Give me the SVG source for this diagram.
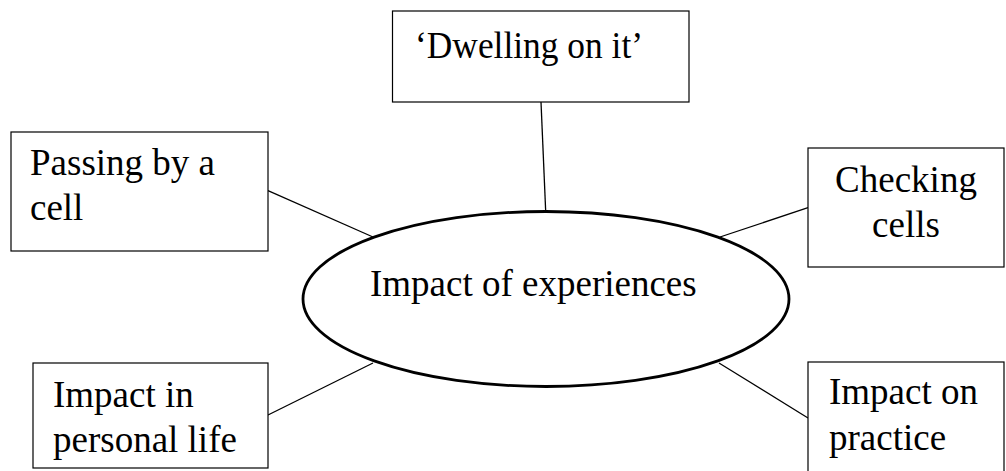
<svg xmlns="http://www.w3.org/2000/svg" width="1006" height="471" viewBox="0 0 1006 471">
  <style>
    .box { fill: #ffffff; stroke: #000000; stroke-width: 1.2; }
    .hub { fill: #ffffff; stroke: #000000; stroke-width: 2.8; }
    .link { stroke: #000000; stroke-width: 1.3; fill: none; }
    .label { font-family: 'Liberation Serif', Tinos, 'Times New Roman', Times, serif; font-size: 37px; fill: #000000; }
    .mid { text-anchor: middle; }
  </style>
  <rect width="1006" height="471" fill="#ffffff"/>

  <!-- spokes from the central ellipse to each box -->
  <g id="connectors">
    <line class="link" x1="541" y1="102" x2="545.7" y2="211.5"/>
    <line class="link" x1="268" y1="190.7" x2="373" y2="237"/>
    <line class="link" x1="808" y1="207.7" x2="720" y2="237"/>
    <line class="link" x1="268" y1="415" x2="373" y2="363"/>
    <line class="link" x1="808" y1="418" x2="719" y2="363"/>
  </g>

  <g id="node-center">
    <ellipse class="hub" cx="546" cy="299" rx="243" ry="87.5"/>
    <text class="label" x="370" y="296">Impact of experiences</text>
  </g>

  <g id="node-dwelling">
    <rect class="box" x="392.5" y="11" width="296.5" height="91"/>
    <text class="label" x="415" y="58" textLength="228" lengthAdjust="spacingAndGlyphs">‘Dwelling on it’</text>
  </g>

  <g id="node-passing">
    <rect class="box" x="11" y="132" width="257" height="119"/>
    <text class="label" x="30" y="175">Passing by a</text>
    <text class="label" x="30" y="220">cell</text>
  </g>

  <g id="node-checking">
    <rect class="box" x="808" y="148" width="196" height="119"/>
    <text class="label mid" x="906" y="192">Checking</text>
    <text class="label mid" x="906" y="237">cells</text>
  </g>

  <g id="node-personal">
    <rect class="box" x="33" y="363" width="235" height="105"/>
    <text class="label" x="53" y="407">Impact in</text>
    <text class="label" x="53" y="452">personal life</text>
  </g>

  <g id="node-practice">
    <rect class="box" x="808" y="362" width="196" height="120"/>
    <text class="label" x="829" y="404">Impact on</text>
    <text class="label" x="829" y="450">practice</text>
  </g>
</svg>
